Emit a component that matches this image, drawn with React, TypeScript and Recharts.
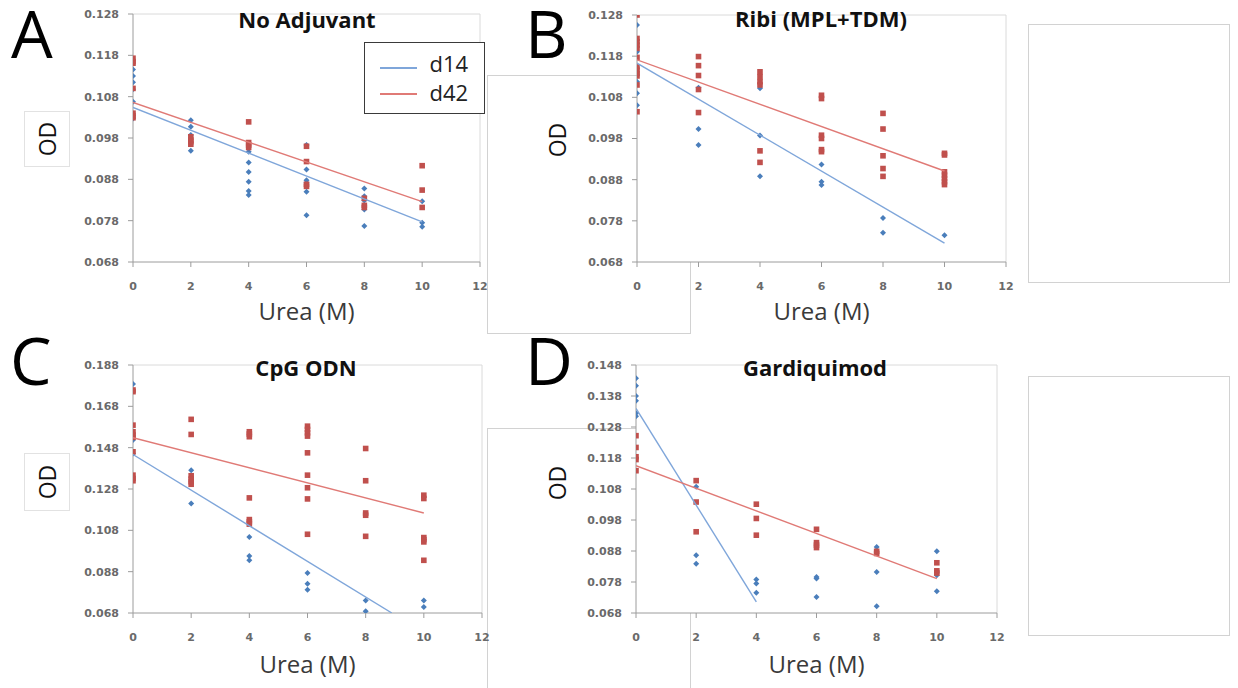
import {
  CartesianGrid,
  Legend,
  ReferenceLine,
  Scatter,
  ScatterChart,
  XAxis,
  YAxis,
} from "recharts";

type Pt = { x: number; y: number };

const ureaLevels = [0, 2, 4, 6, 8, 10];
const ureaTicks = [0, 2, 4, 6, 8, 10, 12];

const odTicksAB = [0.068, 0.078, 0.088, 0.098, 0.108, 0.118, 0.128];
const odTicksC = [0.068, 0.088, 0.108, 0.128, 0.148, 0.168, 0.188];
const odTicksD = [0.068, 0.078, 0.088, 0.098, 0.108, 0.118, 0.128, 0.138, 0.148];

// OD readings per urea level (0, 2, 4, 6, 8, 10 M)
const noAdjD14 = [
  [0.1146, 0.113, 0.1115, 0.1098, 0.1068, 0.1027],
  [0.1023, 0.1007, 0.0987, 0.0949],
  [0.0947, 0.0921, 0.0898, 0.0874, 0.0852, 0.0842],
  [0.0963, 0.0904, 0.0878, 0.0872, 0.085, 0.0793],
  [0.0858, 0.0839, 0.0829, 0.0807, 0.0767],
  [0.0827, 0.0775, 0.0765],
];
const noAdjD42 = [
  [0.1173, 0.1165, 0.1161, 0.11, 0.104, 0.1034, 0.1029],
  [0.0983, 0.0975, 0.0971, 0.0965],
  [0.1019, 0.0969, 0.0963, 0.0957],
  [0.096, 0.0923, 0.0868, 0.0863],
  [0.0834, 0.0817, 0.0812],
  [0.0913, 0.0854, 0.0812],
];
const noAdjD14Trend: Pt[] = [{ x: 0, y: 0.1054 }, { x: 10, y: 0.0777 }];
const noAdjD42Trend: Pt[] = [{ x: 0, y: 0.1066 }, { x: 10, y: 0.0826 }];

const ribiD14 = [
  [0.1256, 0.1191, 0.1118, 0.109, 0.1061],
  [0.1103, 0.1003, 0.0964],
  [0.1102, 0.0987, 0.0888],
  [0.0917, 0.0875, 0.0867],
  [0.0787, 0.0751],
  [0.0745],
];
const ribiD42 = [
  [0.128, 0.1223, 0.1215, 0.1207, 0.1199, 0.1177, 0.1154, 0.1146, 0.1138, 0.1132, 0.111, 0.1045],
  [0.1179, 0.1157, 0.1133, 0.1099, 0.1043],
  [0.1142, 0.113, 0.1118, 0.111, 0.095, 0.0922],
  [0.1085, 0.1077, 0.0988, 0.098, 0.0953, 0.0948],
  [0.1041, 0.1003, 0.0938, 0.0907, 0.0888],
  [0.0944, 0.094, 0.0899, 0.0891, 0.0883, 0.0875, 0.0868],
];
const ribiD14Trend: Pt[] = [{ x: 0, y: 0.1163 }, { x: 10, y: 0.0726 }];
const ribiD42Trend: Pt[] = [{ x: 0, y: 0.1171 }, { x: 10, y: 0.0901 }];

const cpgD14 = [
  [0.1788, 0.1517, 0.1452],
  [0.1371, 0.121],
  [0.1048, 0.0956, 0.0935],
  [0.0874, 0.0822, 0.0793],
  [0.0741, 0.0688],
  [0.0741, 0.0709],
];
const cpgD42 = [
  [0.1759, 0.1751, 0.1589, 0.1557, 0.1541, 0.153, 0.146, 0.1347, 0.1331, 0.132],
  [0.1617, 0.1544, 0.1344, 0.1328, 0.1315, 0.1303],
  [0.1557, 0.1546, 0.1533, 0.1237, 0.1132, 0.1121, 0.111],
  [0.1584, 0.1568, 0.1552, 0.1536, 0.1455, 0.1347, 0.1286, 0.1232, 0.1061],
  [0.1476, 0.132, 0.1164, 0.1153, 0.1051],
  [0.125, 0.1234, 0.1045, 0.1035, 0.1024, 0.0935],
];
const cpgD14Trend: Pt[] = [{ x: 0, y: 0.1447 }, { x: 8.9, y: 0.068 }];
const cpgD42Trend: Pt[] = [{ x: 0, y: 0.1528 }, { x: 10, y: 0.1164 }];

const gardD14 = [
  [0.1437, 0.1413, 0.138, 0.1365, 0.1324, 0.1315],
  [0.1087, 0.0866, 0.0839],
  [0.0788, 0.0775, 0.0745],
  [0.0796, 0.0791, 0.0732],
  [0.0893, 0.0812, 0.0702],
  [0.0879, 0.0802, 0.075],
];
const gardD42 = [
  [0.1252, 0.1214, 0.1184, 0.1175, 0.1139],
  [0.1107, 0.1038, 0.0942],
  [0.1031, 0.0985, 0.0931],
  [0.095, 0.0907, 0.0899, 0.0891],
  [0.0879, 0.0872],
  [0.0842, 0.0816, 0.0809],
];
const gardD14Trend: Pt[] = [{ x: 0, y: 0.134 }, { x: 4, y: 0.0716 }];
const gardD42Trend: Pt[] = [{ x: 0, y: 0.1155 }, { x: 10, y: 0.0791 }];

const legendItems = [
  { name: "d14", color: "#7FA6DA" },
  { name: "d42", color: "#E07A76" },
];

const BLUE = "#4A7EBB";
const RED = "#C0504D";
const BLUE_LINE = "#7FA6DA";
const RED_LINE = "#E07A76";
const FONT = "'Open Sans', sans-serif";

const toPoints = (levels: number[][]): Pt[] =>
  levels.flatMap((vals, i) => vals.map((y) => ({ x: ureaLevels[i], y })));

const Square = (p: any) => (
  <rect x={p.cx - 2.8} y={p.cy - 2.8} width={5.6} height={5.6} fill={RED} />
);
const Diamond = (p: any) => (
  <path
    d={`M${p.cx},${p.cy - 3}L${p.cx + 3},${p.cy}L${p.cx},${p.cy + 3}L${p.cx - 3},${p.cy}Z`}
    fill={BLUE}
  />
);
const NoDot = () => <g />;

type PanelCfg = {
  id: string;
  box: { left: number; top: number; width: number; height: number };
  plot: { left: number; right: number; top: number; bottom: number };
  yTicks: number[];
  d14: number[][];
  d42: number[][];
  d14Trend: Pt[];
  d42Trend: Pt[];
  labelOffset: number;
  legend?: boolean;
};

const panels: PanelCfg[] = [
  {
    id: "A",
    box: { left: 0, top: 0, width: 490, height: 330 },
    plot: { left: 133, right: 480, top: 14, bottom: 262 },
    yTicks: odTicksAB,
    d14: noAdjD14,
    d42: noAdjD42,
    d14Trend: noAdjD14Trend,
    d42Trend: noAdjD42Trend,
    labelOffset: 10,
    legend: true,
  },
  {
    id: "B",
    box: { left: 580, top: 0, width: 440, height: 330 },
    plot: { left: 637, right: 1006, top: 15, bottom: 262 },
    yTicks: odTicksAB,
    d14: ribiD14,
    d42: ribiD42,
    d14Trend: ribiD14Trend,
    d42Trend: ribiD42Trend,
    labelOffset: 10,
  },
  {
    id: "C",
    box: { left: 0, top: 335, width: 490, height: 353 },
    plot: { left: 133, right: 482, top: 365, bottom: 613 },
    yTicks: odTicksC,
    d14: cpgD14,
    d42: cpgD42,
    d14Trend: cpgD14Trend,
    d42Trend: cpgD42Trend,
    labelOffset: 15,
  },
  {
    id: "D",
    box: { left: 580, top: 335, width: 430, height: 353 },
    plot: { left: 636, right: 997, top: 365, bottom: 613 },
    yTicks: odTicksD,
    d14: gardD14,
    d42: gardD42,
    d14Trend: gardD14Trend,
    d42Trend: gardD42Trend,
    labelOffset: 15,
  },
];

const tickStyle = { fill: "#6a6a6a", fontSize: 11, fontWeight: 700, fontFamily: "'DejaVu Sans', sans-serif" };

function LegendBox() {
  return (
    <div
      style={{
        position: "relative",
        width: 121,
        height: 72,
        border: "1.5px solid #3a3a3a",
        boxSizing: "border-box",
        background: "#fff",
        fontFamily: FONT,
      }}
    >
      {legendItems.map((it, i) => (
        <div key={it.name}>
          <div
            style={{
              position: "absolute",
              left: 14.5,
              top: 24 + i * 26,
              width: 37,
              height: 0,
              borderTop: `2px solid ${it.color}`,
            }}
          />
          <div
            style={{
              position: "absolute",
              left: 64.5,
              top: 9 + i * 29,
              fontSize: 22,
              lineHeight: "22px",
              color: "#222",
            }}
          >
            {it.name}
          </div>
        </div>
      ))}
    </div>
  );
}

function Panel({ p }: { p: PanelCfg }) {
  const { box, plot, yTicks } = p;
  const yMax = yTicks[yTicks.length - 1];
  return (
    <div style={{ position: "absolute", left: box.left, top: box.top, width: box.width, height: box.height }}>
      <ScatterChart
        width={box.width}
        height={box.height}
        margin={{ top: plot.top - box.top, right: box.left + box.width - plot.right, bottom: 0, left: 0 }}
      >
        <CartesianGrid horizontal={false} vertical={false} fill="#fff" />
        <ReferenceLine y={yMax} stroke="#dadada" />
        <ReferenceLine x={12} stroke="#dadada" />
        <XAxis
          type="number"
          dataKey="x"
          domain={[0, 12]}
          ticks={ureaTicks}
          interval={0}
          allowDataOverflow
          height={box.top + box.height - plot.bottom}
          stroke="#9c9c9c"
          tickSize={5}
          tickMargin={15}
          tick={tickStyle}
          label={{
            value: "Urea (M)",
            position: "insideBottom",
            offset: p.labelOffset,
            fill: "#3a3a3a",
            fontSize: 24,
            fontFamily: FONT,
          }}
        />
        <YAxis
          type="number"
          dataKey="y"
          domain={[yTicks[0], yMax]}
          ticks={yTicks}
          interval={0}
          allowDataOverflow
          width={plot.left - box.left}
          stroke="#9c9c9c"
          tickSize={5}
          tickMargin={9}
          tick={tickStyle}
          tickFormatter={(v: number) => v.toFixed(3)}
        />
        {p.legend && (
          <Legend
            layout="horizontal"
            verticalAlign="middle"
            align="center"
            wrapperStyle={{ left: 364, top: 42, width: 121, height: 72 }}
            content={() => <LegendBox />}
          />
        )}
        <Scatter name="d14" data={toPoints(p.d14)} shape={Diamond} isAnimationActive={false} />
        <Scatter name="d42" data={toPoints(p.d42)} shape={Square} isAnimationActive={false} />
        <Scatter
          name="d14 trend"
          data={p.d14Trend}
          shape={NoDot}
          line={{ stroke: BLUE_LINE, strokeWidth: 1.4 }}
          legendType="none"
          isAnimationActive={false}
        />
        <Scatter
          name="d42 trend"
          data={p.d42Trend}
          shape={NoDot}
          line={{ stroke: RED_LINE, strokeWidth: 1.4 }}
          legendType="none"
          isAnimationActive={false}
        />
      </ScatterChart>
    </div>
  );
}

const frames = [
  { left: 487, top: 75, width: 204, height: 259 },
  { left: 487, top: 428, width: 204, height: 280 },
  { left: 1028, top: 24, width: 202, height: 259 },
  { left: 1028, top: 376, width: 202, height: 260 },
];

const odBoxes = [
  { left: 24, top: 111, width: 46, height: 56 },
  { left: 24, top: 453, width: 46, height: 58 },
];

const letters = [
  { t: "A", x: 11, y: 58 },
  { t: "B", x: 525, y: 58 },
  { t: "C", x: 10, y: 385 },
  { t: "D", x: 525, y: 385 },
];

const titles = [
  { t: "No Adjuvant", x: 307, y: 28 },
  { t: "Ribi (MPL+TDM)", x: 821, y: 27 },
  { t: "CpG ODN", x: 306, y: 376 },
  { t: "Gardiquimod", x: 815, y: 376 },
];

const odLabels = [
  { x: 47, y: 139 },
  { x: 557, y: 140 },
  { x: 47, y: 482 },
  { x: 557, y: 483 },
];

export default function App() {
  return (
    <div
      style={{
        position: "absolute",
        left: 0,
        top: 0,
        width: 1238,
        height: 688,
        background: "#fff",
        overflow: "hidden",
        fontFamily: FONT,
      }}
    >
      {frames.map((f, i) => (
        <div
          key={i}
          style={{
            position: "absolute",
            left: f.left,
            top: f.top,
            width: f.width,
            height: f.height,
            border: "1px solid #d2d2d2",
            boxSizing: "border-box",
          }}
        />
      ))}
      {odBoxes.map((b, i) => (
        <div
          key={i}
          style={{
            position: "absolute",
            left: b.left,
            top: b.top,
            width: b.width,
            height: b.height,
            border: "1px solid #e2e2e2",
            boxSizing: "border-box",
            background: "#fff",
          }}
        />
      ))}
      {panels.map((p) => (
        <Panel key={p.id} p={p} />
      ))}
      <svg
        width={1238}
        height={688}
        style={{ position: "absolute", left: 0, top: 0, pointerEvents: "none" }}
      >
        {letters.map((l) => (
          <text key={l.t} x={l.x} y={l.y} fontSize={66} fontFamily={FONT} fill="#000">
            {l.t}
          </text>
        ))}
        {titles.map((t) => (
          <text
            key={t.t}
            x={t.x}
            y={t.y}
            textAnchor="middle"
            fontSize={22}
            fontWeight={700}
            fontFamily={FONT}
            fill="#111"
          >
            {t.t}
          </text>
        ))}
        {odLabels.map((o, i) => (
          <text
            key={i}
            transform={`translate(${o.x},${o.y}) rotate(-90)`}
            textAnchor="middle"
            dominantBaseline="central"
            fontSize={23}
            fontFamily={FONT}
            fill="#111"
          >
            OD
          </text>
        ))}
      </svg>
    </div>
  );
}
